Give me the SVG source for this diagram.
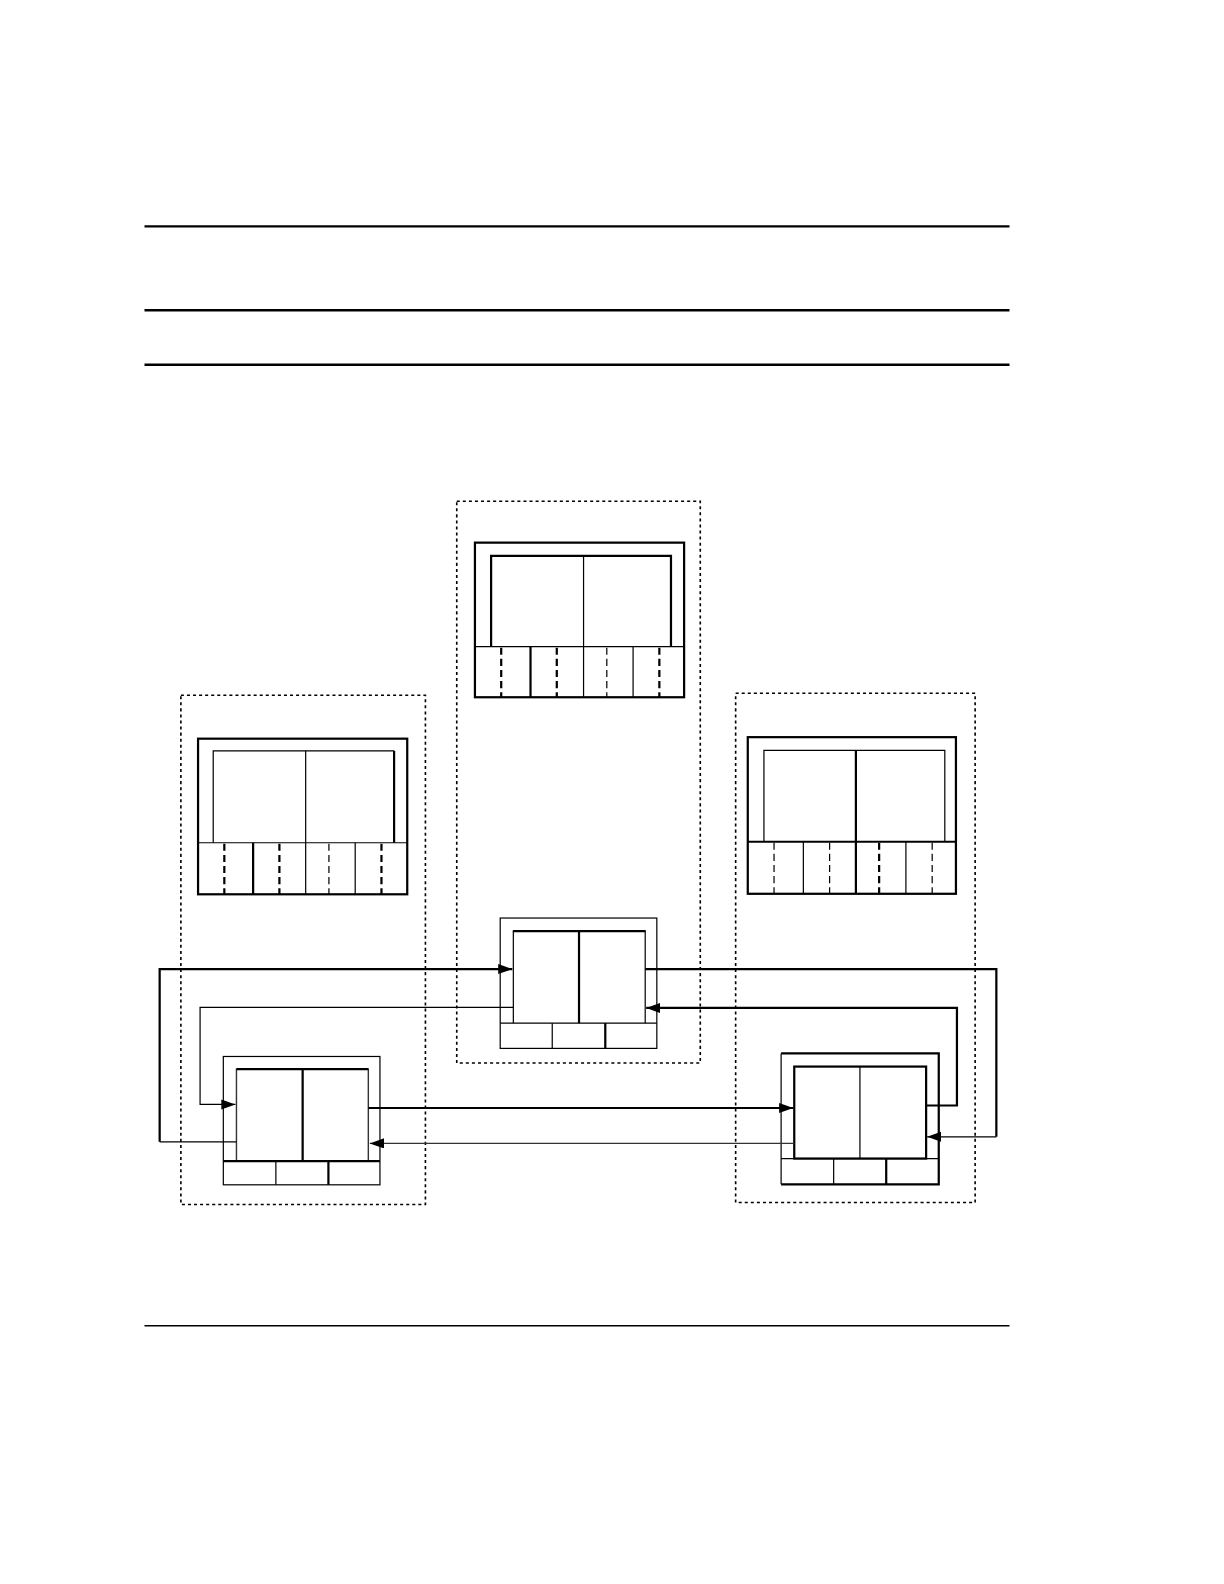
<svg xmlns="http://www.w3.org/2000/svg" width="1224" height="1584" viewBox="0 0 1224 1584">
<style>
.bg{fill:#fff}
.rule{stroke:#000;stroke-width:2.4;fill:none}
.ct{fill:none;stroke:#000;stroke-width:1.6;stroke-dasharray:3,3}
.tk{fill:none;stroke:#000;stroke-width:2.2}
.tn{fill:none;stroke:#000;stroke-width:1.2}
.dk{fill:none;stroke:#000;stroke-width:2.2;stroke-dasharray:7,4}
.dn{fill:none;stroke:#000;stroke-width:1.2;stroke-dasharray:7,4}
.ck{fill:none;stroke:#000;stroke-width:2.2}
.cn{fill:none;stroke:#000;stroke-width:1.2}
</style>
<defs>
<marker id="ah" markerUnits="userSpaceOnUse" markerWidth="15" markerHeight="11" refX="14" refY="5" orient="auto">
<path d="M0,0 L14,5 L0,10 z" fill="#000"/>
</marker>
</defs>
<rect class="bg" x="0" y="0" width="1224" height="1584"/>
<g id="diagram" transform="scale(1.0105)">
<g id="rules">
<line class="rule" x1="143" y1="224" x2="999" y2="224"/>
<line class="rule" x1="143" y1="307" x2="999" y2="307"/>
<line class="rule" x1="143" y1="361" x2="999" y2="361"/>
<line x1="143" y1="1312" x2="999" y2="1312" stroke="#000" stroke-width="1.4"/>
</g>
<g id="container-top"><rect class="ct" x="452" y="496" width="241" height="556"/></g>
<g id="container-left"><rect class="ct" x="179" y="688" width="242" height="504"/></g>
<g id="container-right"><rect class="ct" x="728" y="686" width="237" height="504"/></g>

<g id="node-top">
<rect class="tk" x="470" y="537" width="207" height="153"/>
<path class="tk" d="M486,640 V550 H664 V640"/>
<line class="tn" x1="470" y1="640" x2="677" y2="640"/>
<line class="tn" x1="577.5" y1="550" x2="577.5" y2="690"/>
<line class="tk" x1="525" y1="640" x2="525" y2="690"/>
<line class="tn" x1="626.5" y1="640" x2="626.5" y2="690"/>
<line class="dk" x1="496" y1="641" x2="496" y2="690"/>
<line class="dk" x1="551" y1="641" x2="551" y2="690"/>
<line class="dn" x1="600.5" y1="641" x2="600.5" y2="690"/>
<line class="dk" x1="652.5" y1="641" x2="652.5" y2="690"/>
</g>

<g id="node-left-top">
<rect class="tk" x="196" y="731" width="207" height="154"/>
<path class="tn" d="M211,834 V743 H390"/>
<line class="tk" x1="390" y1="743" x2="390" y2="834"/>
<line class="tn" x1="196" y1="834" x2="403" y2="834"/>
<line class="tn" x1="302.5" y1="743" x2="302.5" y2="885"/>
<line class="tk" x1="250.5" y1="834" x2="250.5" y2="885"/>
<line class="tn" x1="351.5" y1="834" x2="351.5" y2="885"/>
<line class="dk" x1="222" y1="835" x2="222" y2="885"/>
<line class="dk" x1="276.5" y1="835" x2="276.5" y2="885"/>
<line class="dn" x1="325.5" y1="835" x2="325.5" y2="885"/>
<line class="dk" x1="377.5" y1="835" x2="377.5" y2="885"/>
</g>

<g id="node-right-top">
<rect class="tk" x="740" y="729.5" width="206" height="155"/>
<path class="tn" d="M756,833 V742.5 H935 V833"/>
<line class="tk" x1="740" y1="833" x2="946" y2="833"/>
<line class="tk" x1="847" y1="742.5" x2="847" y2="885"/>
<line class="tn" x1="795" y1="833" x2="795" y2="885"/>
<line class="tn" x1="896.5" y1="833" x2="896.5" y2="885"/>
<line class="dn" x1="766" y1="834" x2="766" y2="885"/>
<line class="dn" x1="821" y1="834" x2="821" y2="885"/>
<line class="dk" x1="870" y1="834" x2="870" y2="885"/>
<line class="dn" x1="922.5" y1="834" x2="922.5" y2="885"/>
</g>

<g id="node-center">
<rect class="tn" x="495" y="908.5" width="155" height="129"/>
<path class="tn" d="M508,1012.5 V921.5"/>
<path class="tn" d="M638.5,1012.5 V921.5"/>
<line class="tk" x1="507.5" y1="921.5" x2="639" y2="921.5"/>
<line class="tn" x1="495" y1="1012.5" x2="650" y2="1012.5"/>
<line class="tk" x1="573" y1="921.5" x2="573" y2="1012.5"/>
<line class="tn" x1="546.5" y1="1012.5" x2="546.5" y2="1037.5"/>
<line class="tk" x1="599" y1="1012.5" x2="599" y2="1037.5"/>
</g>

<g id="node-left-bottom">
<rect class="tn" x="221" y="1045.5" width="155" height="127"/>
<path d="M234,1149 V1058 H364.5 V1149" fill="none" stroke="#333" stroke-width="1.4"/>
<line class="tk" x1="234" y1="1058" x2="364.5" y2="1058"/>
<line class="tk" x1="221" y1="1149" x2="376" y2="1149"/>
<line class="tk" x1="299.5" y1="1058" x2="299.5" y2="1149"/>
<line class="tn" x1="273" y1="1149" x2="273" y2="1172.5"/>
<line class="tk" x1="325" y1="1149" x2="325" y2="1172.5"/>
</g>

<g id="node-right-bottom">
<path class="tn" d="M773,1172 V1042.5"/>
<path class="tk" d="M773,1042.5 H929 V1172 H773"/>
<rect class="tk" x="786" y="1055.5" width="130.5" height="91"/>
<line class="tn" x1="773" y1="1146.5" x2="929" y2="1146.5"/>
<line class="tn" x1="851" y1="1055.5" x2="851" y2="1146.5"/>
<line class="tn" x1="825" y1="1146.5" x2="825" y2="1172"/>
<line class="tk" x1="877" y1="1146.5" x2="877" y2="1172"/>
</g>

<g id="connectors">
<path class="cn" d="M234,1130 H158"/>
<path class="ck" d="M158,1130 V959 H507" marker-end="url(#ah)"/>
<path class="cn" d="M508,997 H198 V1093 H233" marker-end="url(#ah)"/>
<path class="ck" d="M364.5,1096.5 H785" marker-end="url(#ah)"/>
<path d="M786,1131.5 H366" fill="none" stroke="#333" stroke-width="1.4" marker-end="url(#ah)"/>
<path class="ck" d="M638.5,959 H986 V1125"/>
<path class="cn" d="M986,1125 H917.5" marker-end="url(#ah)"/>
<path class="ck" d="M916.5,1094 H947 V997.5 H639.5" marker-end="url(#ah)"/>
</g>
</g>
</svg>
